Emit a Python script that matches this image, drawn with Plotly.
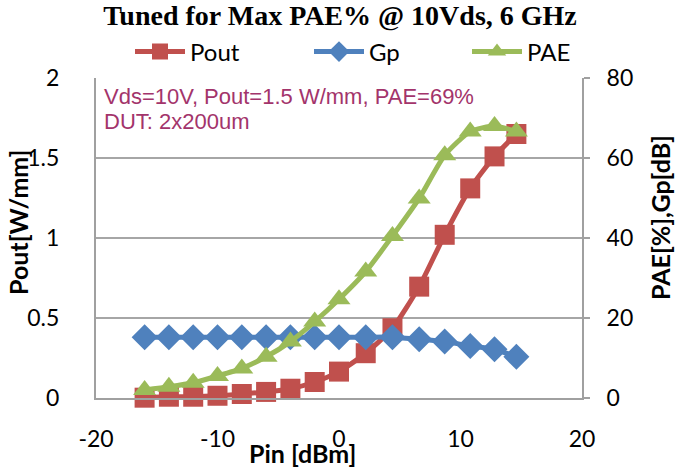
import plotly.graph_objects as go

pin = [-16, -14, -12, -10, -8, -6, -4, -2, 0, 2.2, 4.4, 6.6, 8.7, 10.8, 12.8, 14.6]
pout = [0.002, 0.008, 0.008, 0.014, 0.025, 0.038, 0.058, 0.10, 0.165, 0.28, 0.436, 0.696, 1.02, 1.31, 1.51, 1.65]
gp = [15.2, 15.2, 15.2, 15.2, 15.2, 15.2, 15.2, 15.2, 15.2, 15.2, 15.2, 14.7, 14.1, 13.0, 12.2, 10.3]
pae = [2.0, 2.8, 3.8, 5.5, 7.4, 10.3, 14.1, 19.1, 24.7, 31.6, 40.5, 49.9, 60.7, 66.6, 68.0, 66.6]

x_ticks = [-20, -10, 0, 10, 20]
x_ticktext = ["-20", "-10", "0", "10", "20"]
y_ticks = [0, 0.5, 1, 1.5, 2]
y2_ticks = [0, 20, 40, 60, 80]

RED = "#C0504D"
BLUE = "#4F81BD"
GREEN = "#9BBB59"
SANS = "Lato, Open Sans, sans-serif"
TICKFONT = dict(family=SANS, size=23, color="black")
NOTE = dict(family="Liberation Sans, Arial, sans-serif", size=22, color="#A3346B")
AXT = dict(family=SANS, size=25, color="black")
LEGFONT = dict(family=SANS, size=24, color="black")

fig = go.Figure()
fig.add_trace(go.Scatter(x=pin, y=pout, name="Pout", mode="lines+markers", legend="legend",
                         line=dict(color=RED, width=5, shape="spline", smoothing=0.6),
                         marker=dict(symbol="square", size=20, color=RED),
                         cliponaxis=False))
fig.add_trace(go.Scatter(x=pin, y=gp, name="Gp", mode="lines+markers", yaxis="y2", legend="legend2",
                         line=dict(color=BLUE, width=5, shape="spline", smoothing=0.6),
                         marker=dict(symbol="diamond", size=20, color=BLUE),
                         cliponaxis=False))
fig.add_trace(go.Scatter(x=pin, y=pae, name="PAE", mode="lines+markers", yaxis="y2", legend="legend3",
                         line=dict(color=GREEN, width=5, shape="spline", smoothing=0.6),
                         marker=dict(symbol="triangle-up", size=20, color=GREEN),
                         cliponaxis=False))


def leg(xpx):
    return dict(orientation="h", x=xpx / 680, xanchor="left", xref="container",
                y=1 - 52 / 468, yref="container", yanchor="middle",
                font=LEGFONT, itemwidth=50, bgcolor="rgba(0,0,0,0)")


fig.update_layout(
    width=680, height=468,
    margin=dict(l=96, r=98, t=78, b=70, autoexpand=False),
    paper_bgcolor="white", plot_bgcolor="white",
    showlegend=True,
    legend=leg(130), legend2=leg(309), legend3=leg(467),
    title=dict(text="<b>Tuned for Max PAE% @ 10Vds, 6 GHz</b>", x=0.5, xanchor="center",
               xref="container", y=1 - 15 / 468, yanchor="middle", yref="container",
               font=dict(family="Liberation Serif, Times New Roman, serif", size=28, color="black")),
    xaxis=dict(range=[-20, 20], tickvals=x_ticks, ticktext=x_ticktext, showgrid=False, zeroline=False,
               showline=True, linecolor="#A0A0A0", linewidth=2,
               ticks="", tickfont=TICKFONT, ticklabelstandoff=19),
    yaxis=dict(range=[0, 2], tickvals=y_ticks, showgrid=True, gridcolor="#A6A6A6", gridwidth=2,
               zeroline=False, showline=True, linecolor="#A0A0A0", linewidth=2,
               ticks="outside", ticklen=30, tickcolor="rgba(0,0,0,0)", tickfont=TICKFONT),
    yaxis2=dict(range=[0, 80], tickvals=y2_ticks, overlaying="y", side="right", showgrid=False,
                zeroline=False, showline=True, linecolor="#A0A0A0", linewidth=2,
                ticks="outside", ticklen=6, tickwidth=2, tickcolor="#A0A0A0",
                tickfont=TICKFONT, ticklabelstandoff=12),
    annotations=[
        dict(text="Vds=10V, Pout=1.5 W/mm, PAE=69%", xref="paper", yref="paper",
             x=0.012, y=1 - (96 - 78) / 320, xanchor="left", yanchor="middle", showarrow=False,
             font=NOTE),
        dict(text="DUT: 2x200um", xref="paper", yref="paper",
             x=0.012, y=1 - (122 - 78) / 320, xanchor="left", yanchor="middle", showarrow=False,
             font=NOTE),
        dict(text="<b>Pin [dBm]</b>", xref="paper", yref="paper", x=(302 - 96) / 486,
             y=-(453 - 398) / 320, xanchor="center", yanchor="middle", showarrow=False, font=AXT),
        dict(text="<b>Pout[W/mm]</b>", xref="paper", yref="paper", x=(18 - 96) / 486,
             y=1 - (223 - 78) / 320, xanchor="center", yanchor="middle", showarrow=False,
             textangle=-90, font=AXT),
        dict(text="<b>PAE[%],Gp[dB]</b>", xref="paper", yref="paper", x=(660 - 96) / 486,
             y=1 - (218 - 78) / 320, xanchor="center", yanchor="middle", showarrow=False,
             textangle=-90, font=AXT),
    ],
)

fig.write_html("out.html")
